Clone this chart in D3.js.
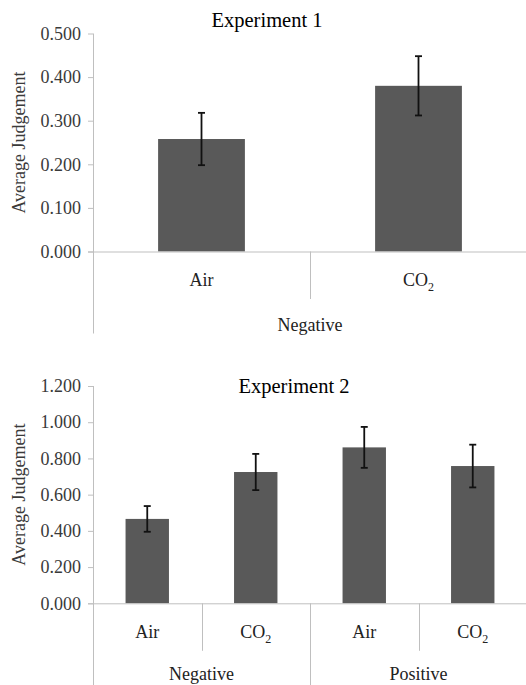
<!DOCTYPE html>
<html>
<head>
<meta charset="utf-8">
<script src="https://cdn.jsdelivr.net/npm/d3@7/dist/d3.min.js"></script>
<style>
  body { margin: 0; background: #fff; }
</style>
</head>
<body>
<div id="chart"></div>
<script>
// Experiment 1: gas condition within the negative valence group
const exp1Conditions = ["Air", "CO2"];
const exp1Valence = ["Negative", "Negative"];
const exp1Means = [0.258, 0.380];
const exp1Errors = [0.060, 0.068];
const exp1Ticks = [0, 0.1, 0.2, 0.3, 0.4, 0.5];

// Experiment 2: gas condition x valence
const exp2Conditions = ["Air", "CO2", "Air", "CO2"];
const exp2Valence = ["Negative", "Negative", "Positive", "Positive"];
const exp2Means = [0.466, 0.725, 0.861, 0.758];
const exp2Errors = [0.071, 0.100, 0.113, 0.118];
const exp2Ticks = [0, 0.2, 0.4, 0.6, 0.8, 1.0, 1.2];

const W = 526, H = 685;
const AXIS_COLOR = "#bfbfbf";
const BAR_COLOR = "#595959";
const SERIF = "'Liberation Serif'";

const svg = d3.select("#chart").append("svg")
    .attr("width", W)
    .attr("height", H);

function drawPanel(opts) {
    const { conditions, valence, means, errors, ticks, title, titleX, top, bottom, tickMax } = opts;
    const left = 93, right = 527;
    const data = conditions.map((c, i) => ({ id: i, cond: c, group: valence[i], mean: means[i], err: errors[i] }));

    const x = d3.scaleBand()
        .domain(data.map(d => d.id))
        .range([left, right]);

    const y = d3.scaleLinear()
        .domain([0, tickMax])
        .range([bottom, top]);

    const g = svg.append("g");

    // y axis
    const yAxis = d3.axisLeft(y)
        .tickValues(ticks)
        .tickSize(5)
        .tickPadding(7)
        .tickFormat(d3.format(".3f"));

    g.append("g")
        .attr("transform", `translate(${left},0)`)
        .call(yAxis)
        .call(s => s.select(".domain").remove())
        .call(s => s.selectAll(".tick line").attr("stroke", AXIS_COLOR))
        .call(s => s.selectAll(".tick text")
            .attr("fill", "#3a3a3a")
            .style("font-family", SERIF)
            .style("font-size", "18px"));

    // vertical axis line, extended down through the category area
    g.append("line")
        .attr("x1", left + 0.5).attr("x2", left + 0.5)
        .attr("y1", top).attr("y2", bottom + 82)
        .attr("stroke", AXIS_COLOR);

    // bars
    const barW = x.bandwidth() * 0.4;
    g.selectAll(".bar")
        .data(data)
        .enter().append("rect")
        .attr("class", "bar")
        .attr("x", d => x(d.id) + (x.bandwidth() - barW) / 2)
        .attr("y", d => y(d.mean))
        .attr("width", barW)
        .attr("height", d => y(0) - y(d.mean))
        .attr("fill", BAR_COLOR);

    // horizontal axis line
    g.append("line")
        .attr("x1", left - 5).attr("x2", W)
        .attr("y1", y(0) + 0.5).attr("y2", y(0) + 0.5)
        .attr("stroke", AXIS_COLOR);

    // error bars
    const eb = g.selectAll(".err")
        .data(data)
        .enter().append("g")
        .attr("class", "err")
        .attr("stroke", "#111")
        .attr("stroke-width", 1.8);
    const cx = d => x(d.id) + x.bandwidth() / 2;
    eb.append("line")
        .attr("x1", cx).attr("x2", cx)
        .attr("y1", d => y(d.mean + d.err))
        .attr("y2", d => y(d.mean - d.err));
    eb.append("line")
        .attr("x1", d => cx(d) - 3.5).attr("x2", d => cx(d) + 3.5)
        .attr("y1", d => y(d.mean + d.err)).attr("y2", d => y(d.mean + d.err));
    eb.append("line")
        .attr("x1", d => cx(d) - 3.5).attr("x2", d => cx(d) + 3.5)
        .attr("y1", d => y(d.mean - d.err)).attr("y2", d => y(d.mean - d.err));

    // dividers between conditions (short) and between groups (long)
    data.slice(1).forEach((d, i) => {
        const prev = data[i];
        const xx = Math.round(x(d.id)) + 0.5;
        const long = prev.group !== d.group;
        g.append("line")
            .attr("x1", xx).attr("x2", xx)
            .attr("y1", y(0))
            .attr("y2", y(0) + (long ? 82 : 47.5))
            .attr("stroke", AXIS_COLOR);
    });

    // condition labels (CO2 with subscript)
    const labels = g.selectAll(".cond")
        .data(data)
        .enter().append("text")
        .attr("class", "cond")
        .attr("x", cx)
        .attr("y", y(0) + 34.5)
        .attr("text-anchor", "middle")
        .attr("fill", "#222")
        .style("font-family", SERIF)
        .style("font-size", "18px");
    labels.each(function(d) {
        const t = d3.select(this);
        if (d.cond === "CO2") {
            t.append("tspan").text("CO");
            t.append("tspan").text("2").attr("dy", 5).style("font-size", "12px");
        } else {
            t.text(d.cond);
        }
    });

    // group labels
    const groups = Array.from(d3.group(data, d => d.group), ([k, v]) => ({
        name: k,
        x0: x(v[0].id),
        x1: x(v[v.length - 1].id) + x.bandwidth()
    }));
    g.selectAll(".grp")
        .data(groups)
        .enter().append("text")
        .attr("class", "grp")
        .attr("x", d => (d.x0 + d.x1) / 2)
        .attr("y", Math.min(y(0) + 79.5, H - 5))
        .attr("text-anchor", "middle")
        .attr("fill", "#222")
        .style("font-family", SERIF)
        .style("font-size", "18px")
        .text(d => d.name);

    // y label
    g.append("text")
        .attr("transform", `translate(25,${(top + bottom) / 2}) rotate(-90)`)
        .attr("text-anchor", "middle")
        .attr("fill", "#3a3a3a")
        .style("font-family", SERIF)
        .style("font-size", "18px")
        .text("Average Judgement");

    // title
    g.append("text")
        .attr("x", titleX)
        .attr("y", opts.titleY)
        .attr("text-anchor", "middle")
        .attr("fill", "#000")
        .style("font-family", SERIF)
        .style("font-size", "20.5px")
        .text(title);
}

drawPanel({
    conditions: exp1Conditions, valence: exp1Valence,
    means: exp1Means, errors: exp1Errors, ticks: exp1Ticks, tickMax: 0.5,
    title: "Experiment 1", titleX: 267, titleY: 27,
    top: 33.5, bottom: 251.5
});

drawPanel({
    conditions: exp2Conditions, valence: exp2Valence,
    means: exp2Means, errors: exp2Errors, ticks: exp2Ticks, tickMax: 1.2,
    title: "Experiment 2", titleX: 294, titleY: 392.5,
    top: 386, bottom: 603.3
});
</script>
</body>
</html>
